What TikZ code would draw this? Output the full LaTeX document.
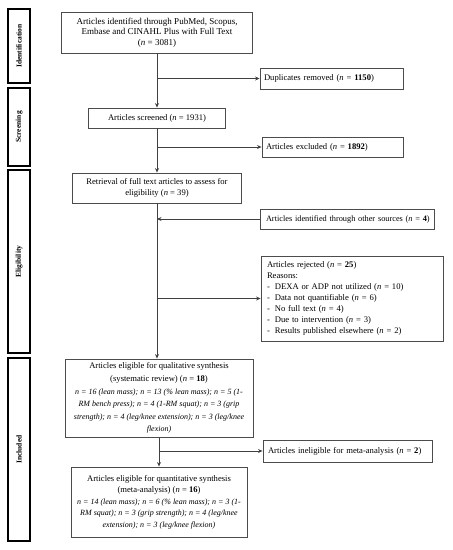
\documentclass[tikz,border=0pt]{standalone}
\usepackage{fontspec}
\setmainfont{Liberation Serif}
\usetikzlibrary{arrows.meta}
\newcommand{\itsz}{\fontsize{8}{11.3}\selectfont\itshape}
\begin{document}
\begin{tikzpicture}[x=1pt,y=-1pt,
  box/.style={draw=black!70, line width=0.9pt, inner sep=0pt, align=center, font=\fontsize{8.6}{10.5}\selectfont},
  lbox/.style={box, align=left},
  side/.style={draw=black, line width=1.3pt, inner sep=0pt, minimum width=22pt},
  sidetxt/.style={rotate=90, font=\fontsize{7.5}{8}\selectfont\bfseries},
  arr/.style={draw=black!75, line width=0.7pt, -{Stealth[length=4.5pt,width=4pt]}}]
\useasboundingbox (0,0) rectangle (453,550);
% side bars
\node[side, minimum height=74pt] (sid) at (19,46) {};
\node[sidetxt] (sidt) at (sid) {Identification};
\node[side, minimum height=78pt] (ssc) at (19,127) {};
\node[sidetxt] (ssct) at (ssc) {Screening};
\node[side, minimum height=183pt] (sel) at (19,261.5) {};
\node[sidetxt] (selt) at (sel) {Eligibility};
\node[side, minimum height=183pt] (sin) at (19,449.5) {};
\node[sidetxt] (sint) at (sin) {Included};
% main boxes
\node[box, minimum width=191pt, minimum height=41pt, font=\fontsize{9}{10.5}\selectfont] (b1) at (157,32.5)
  {Articles identified through PubMed, Scopus,\\ Embase and CINAHL Plus with Full Text\\ (\textit{n} = 3081)};
\node[box, minimum width=137pt, minimum height=20pt] (scr) at (157,118)
  {Articles screened (\textit{n} = 1931)};
\node[box, minimum width=169pt, minimum height=30pt] (retr) at (157,188)
  {Retrieval of full text articles to assess for\\ eligibility (\textit{n} = 39)};
\node[box, minimum width=188pt, minimum height=78pt, font=\fontsize{8.6}{12.3}\selectfont] (qual) at (159,398)
  {Articles eligible for qualitative synthesis\\ (systematic review) (\textit{n} = \textbf{18})\\[1pt]
   {\itsz n = 16 (lean mass); n = 13 (\% lean mass); n = 5 (1-}\\
   {\itsz RM bench press); n = 4 (1-RM squat); n = 3 (grip}\\
   {\itsz strength); n = 4 (leg/knee extension); n = 3 (leg/knee}\\
   {\itsz flexion)}};
\node[box, minimum width=176pt, minimum height=70pt, font=\fontsize{8.6}{11.3}\selectfont] (quant) at (159,502)
  {Articles eligible for quantitative synthesis\\ (meta-analysis) (\textit{n} = \textbf{16})\\[1pt]
   {\itsz n = 14 (lean mass); n = 6 (\% lean mass); n = 3 (1-}\\
   {\itsz RM squat); n = 3 (grip strength); n = 4 (leg/knee}\\
   {\itsz extension); n = 3 (leg/knee flexion)}};
% side boxes
\node[lbox, minimum width=143pt, minimum height=21pt, text width=135pt] (dup) at (331.5,78.5)
  {Duplicates removed (\textit{n} = \textbf{1150})};
\node[lbox, minimum width=141pt, minimum height=20pt, text width=133pt] (exc) at (332.5,147)
  {Articles excluded (\textit{n} = \textbf{1892})};
\node[lbox, minimum width=174pt, minimum height=20pt, text width=162pt, font=\fontsize{8.3}{10.5}\selectfont] (oth) at (347,219)
  {\mbox{Articles identified through other sources (\textit{n} = \textbf{4})}};
\node[lbox, minimum width=182pt, minimum height=85pt, text width=170pt, font=\fontsize{8.6}{11}\selectfont] (rej) at (352,298.5)
  {Articles rejected (\textit{n} = \textbf{25})\\ Reasons:\\
   -\hspace{5pt}DEXA or ADP not utilized (\textit{n} = 10)\\
   -\hspace{5pt}Data not quantifiable (\textit{n} = 6)\\
   -\hspace{5pt}No full text (\textit{n} = 4)\\
   -\hspace{5pt}Due to intervention (\textit{n} = 3)\\
   -\hspace{5pt}Results published elsewhere (\textit{n} = 2)};
\node[lbox, minimum width=169pt, minimum height=22pt, text width=159pt] (inel) at (347.5,451)
  {Articles ineligible for meta-analysis (\textit{n} = \textbf{2})};
% connectors
\draw[arr] (b1.south) -- (scr.north);
\draw[arr] (b1.south |- dup.west) -- (dup.west);
\draw[arr] (scr.south) -- (retr.north);
\draw[arr] (scr.south |- exc.west) -- (exc.west);
\draw[arr] (retr.south) -- (retr.south |- qual.north);
\draw[arr] (oth.west) -- (oth.west -| retr.south);
\draw[arr] (retr.south |- rej.west) -- (rej.west);
\draw[arr] (qual.south) -- (quant.north);
\draw[arr] (qual.south |- inel.west) -- (inel.west);
\end{tikzpicture}
\end{document}
